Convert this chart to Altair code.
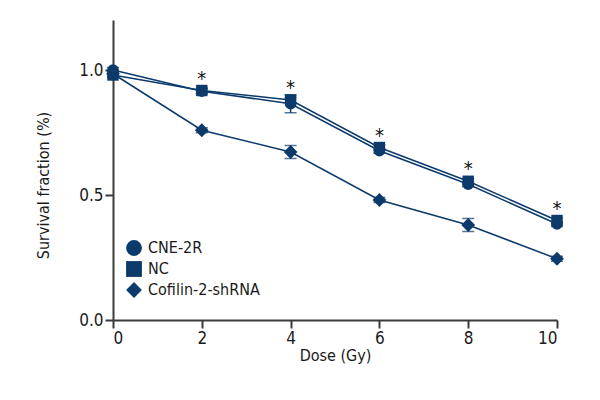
import altair as alt
import pandas as pd

dose = [0, 2, 4, 6, 8, 10]
series_names = ["CNE-2R", "NC", "Cofilin-2-shRNA"]
cne2r = [1.000, 0.915, 0.865, 0.677, 0.543, 0.384]
nc = [0.980, 0.918, 0.880, 0.690, 0.555, 0.398]
cofilin = [0.985, 0.759, 0.672, 0.480, 0.380, 0.245]
cne2r_err = [0.010, 0.010, 0.036, 0.010, 0.010, 0.010]
nc_err = [0.010, 0.010, 0.010, 0.010, 0.010, 0.010]
cofilin_err = [0.010, 0.010, 0.026, 0.010, 0.026, 0.010]
star_dose = [2, 4, 6, 8, 10]

NAVY = "#0b3a6b"
AXIS = "#3a3a3a"
FONT = "DejaVu Sans Condensed, sans-serif"
Y_TITLE = "Survival fraction (%)"

rows = []
for name, vals, errs in zip(series_names, [cne2r, nc, cofilin], [cne2r_err, nc_err, cofilin_err]):
    for d, v, e in zip(dose, vals, errs):
        rows.append({"series": name, "dose": d, "value": v, "lo": v - e, "hi": v + e})
df = pd.DataFrame(rows)

star_df = pd.DataFrame({
    "dose": star_dose,
    "value": [nc[dose.index(d)] for d in star_dose],
    "label": ["*"] * len(star_dose),
})

x_enc = alt.X(
    "dose:Q",
    scale=alt.Scale(domain=[0, 10], nice=False, zero=False),
    axis=alt.Axis(values=dose, title="Dose (Gy)", format="d",
                  titleY=35, titleBaseline="middle"),
)
y_enc = alt.Y(
    "value:Q",
    title=Y_TITLE,
    scale=alt.Scale(domain=[0, 1.2], nice=False),
    axis=alt.Axis(values=[0, 0.5, 1.0], format=".1f", titleX=-62, titleY=165),
)

base = alt.Chart(df)

lines = base.mark_line(color=NAVY, strokeWidth=1.5, clip=False).encode(
    x=x_enc, y=y_enc, detail="series:N"
)

errs = base.mark_errorbar(color=NAVY, thickness=1.5, ticks={"size": 12, "color": NAVY, "thickness": 1.5}).encode(
    x="dose:Q", y=alt.Y("lo:Q", title=Y_TITLE), y2=alt.Y2("hi:Q", title=Y_TITLE)
)

points = base.mark_point(filled=True, opacity=1, color=NAVY, size=130, clip=False).encode(
    x=x_enc,
    y=y_enc,
    shape=alt.Shape(
        "series:N",
        scale=alt.Scale(domain=series_names, range=["circle", "square", "diamond"]),
        legend=alt.Legend(title=None, orient="none", legendX=13, legendY=220),
    ),
)

diamonds = base.transform_filter(
    alt.datum.series == series_names[2]
).mark_point(filled=True, opacity=1, color=NAVY, size=190, shape="diamond", clip=False).encode(
    x=x_enc, y=y_enc
)

stars = alt.Chart(star_df).mark_text(
    font=FONT, fontSize=20, color="#111", baseline="alphabetic", dy=-6
).encode(x="dose:Q", y="value:Q", text="label:N")

chart = (
    alt.layer(lines, errs, points, diamonds, stars)
    .properties(
        width=444,
        height=300,
        autosize=alt.AutoSizeParams(type="none"),
        padding={"left": 105, "top": 12, "right": 35, "bottom": 70},
    )
    .configure_view(stroke=None)
    .configure_axis(
        grid=False,
        domainColor=AXIS,
        domainWidth=2,
        tickColor=AXIS,
        tickWidth=2,
        tickSize=8,
        labelFont=FONT,
        labelFontSize=17,
        labelColor="#1a1a1a",
        labelPadding=2,
        titleFont=FONT,
        titleFontSize=16,
        titleFontWeight="normal",
        titleColor="#1a1a1a",
    )
    .configure_legend(
        labelFont=FONT,
        labelFontSize=16,
        labelColor="#1a1a1a",
        symbolSize=250,
        symbolFillColor=NAVY,
        symbolStrokeColor=NAVY,
        symbolStrokeWidth=0,
        rowPadding=5,
        labelOffset=6,
        padding=0,
    )
)

chart.save("out.html", embed_options={"renderer": "svg", "actions": False})
